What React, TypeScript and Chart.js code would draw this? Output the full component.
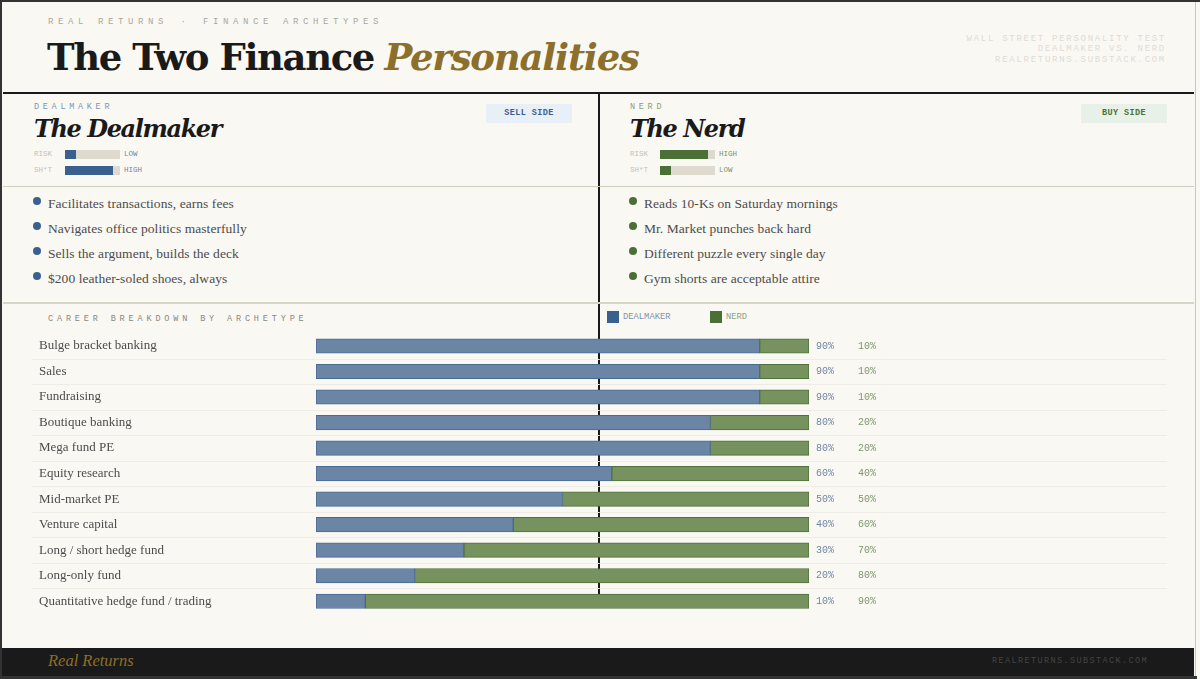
import React, { useEffect, useRef } from "react";
import { Chart, registerables } from "chart.js";

Chart.register(...registerables);

const categories = [
  "Bulge bracket banking", "Sales", "Fundraising", "Boutique banking", "Mega fund PE",
  "Equity research", "Mid-market PE", "Venture capital", "Long / short hedge fund",
  "Long-only fund", "Quantitative hedge fund / trading",
];
const dealmaker = [90, 90, 90, 80, 80, 60, 50, 40, 30, 20, 10];
const nerd = [10, 10, 10, 20, 20, 40, 50, 60, 70, 80, 90];
const dealPoints = ["Facilitates transactions, earns fees", "Navigates office politics masterfully", "Sells the argument, builds the deck", "$200 leather-soled shoes, always"];
const nerdPoints = ["Reads 10-Ks on Saturday mornings", "Mr. Market punches back hard", "Different puzzle every single day", "Gym shorts are acceptable attire"];
const headerNote = ["WALL STREET PERSONALITY TEST", "DEALMAKER VS. NERD", "REALRETURNS.SUBSTACK.COM"];

const BLUE = "#3a6090";
const GREEN = "#4a7035";
const MONO = "'Liberation Mono', monospace";
const SERIF = "'DejaVu Serif', serif";
const BODY = "'Liberation Serif', serif";

const abs = (x: number, y: number, extra: React.CSSProperties = {}): React.CSSProperties => ({
  position: "absolute", left: x, top: y, whiteSpace: "pre", ...extra,
});

function Meter({ x, y, off, label, pct, word, color }: any) {
  return (
    <>
      <div style={abs(x, y - 5, { font: `7.5px ${MONO}`, color: "#c4c1b8", lineHeight: "10px" })}>{label}</div>
      <div style={abs(x + off, y - 4, { width: 55, height: 9, background: "#dedad0" })} />
      <div style={abs(x + off, y - 4, { width: 55 * pct, height: 9, background: color })} />
      <div style={abs(x + off + 59, y - 5, { font: `7.5px ${MONO}`, color, opacity: 0.75, lineHeight: "10px" })}>{word}</div>
    </>
  );
}

function Panel({ x, off, kicker, name, meters, points, color, tag, tagX, tagBg }: any) {
  return (
    <>
      <div style={abs(x, 102, { font: `8.5px ${MONO}`, letterSpacing: 3.7, color, opacity: 0.65, lineHeight: "10px" })}>{kicker}</div>
      <div style={abs(x, 113, { font: `italic bold 24px ${SERIF}`, color: "#1a1a1a", lineHeight: "32px", letterSpacing: -1.4 })}>{name}</div>
      {meters.map((m: any, i: number) => (
        <Meter key={m.label} x={x} y={154 + i * 16} off={off} label={m.label} pct={m.pct} word={m.word} color={color} />
      ))}
      <div style={abs(tagX, 104, { width: 86, height: 19, background: tagBg, textAlign: "center", font: `bold 8.5px ${MONO}`, letterSpacing: 0.4, color, lineHeight: "19px" })}>{tag}</div>
      {points.map((p: string, i: number) => (
        <React.Fragment key={p}>
          <div style={abs(x - 1, 197 + i * 25, { width: 8, height: 8, borderRadius: 4, background: color })} />
          <div style={abs(x + 14, 194 + i * 25.1, { font: `13.5px ${BODY}`, color: "#4c4c4c", lineHeight: "20px", letterSpacing: 0.06 })}>{p}</div>
        </React.Fragment>
      ))}
    </>
  );
}

export default function App() {
  const ref = useRef<HTMLCanvasElement>(null);

  useEffect(() => {
    document.body.style.margin = "0";
    const valueLabels = {
      id: "valueLabels",
      afterDatasetsDraw(c: any) {
        const { ctx, scales: { y }, chartArea } = c;
        ctx.save();
        ctx.font = `10px ${MONO}`;
        ctx.textBaseline = "middle";
        categories.forEach((_, i) => {
          const py = y.getPixelForValue(i);
          ctx.fillStyle = "#6f86a3";
          ctx.fillText(`${dealmaker[i]}%`, chartArea.right + 7, py);
          ctx.fillStyle = "#7f9670";
          ctx.fillText(`${nerd[i]}%`, chartArea.right + 49, py);
        });
        ctx.restore();
      },
    };
    const rowLines = {
      id: "rowLines",
      afterDraw(c: any) {
        const { ctx, scales: { y } } = c;
        ctx.save();
        ctx.strokeStyle = "#efece6";
        ctx.lineWidth = 1;
        for (let i = 0; i < categories.length - 1; i++) {
          const py = Math.round((y.getPixelForValue(i) + y.getPixelForValue(i + 1)) / 2) + 0.5;
          ctx.beginPath();
          ctx.moveTo(0, py);
          ctx.lineTo(c.width, py);
          ctx.stroke();
        }
        ctx.restore();
      },
    };
    const chart = new Chart(ref.current!, {
      type: "bar",
      data: {
        labels: categories,
        datasets: [
          { label: "Dealmaker", data: dealmaker, backgroundColor: "#6b85a5", borderColor: "#466a96", borderWidth: 1, borderSkipped: false, barThickness: 14.5 },
          { label: "Nerd", data: nerd, backgroundColor: "#76925f", borderColor: "#4f7039", borderWidth: 1, borderSkipped: false, barThickness: 14.5 },
        ],
      },
      options: {
        indexAxis: "y",
        animation: false,
        responsive: false,
        maintainAspectRatio: false,
        layout: { autoPadding: false, padding: { left: 7, right: 358, top: 8.2, bottom: 8 } },
        plugins: { legend: { display: false }, tooltip: { enabled: false } },
        scales: {
          x: { stacked: true, min: 0, max: 100, display: false },
          y: {
            stacked: true,
            grid: { display: false },
            border: { display: false },
            afterFit(s: any) { s.width = 277; },
            ticks: {
              autoSkip: false,
              crossAlign: "far",
              padding: 0,
              color: "#4c4c4c",
              font: { family: "'Liberation Serif', serif", size: 13 },
            },
          },
        },
      },
      plugins: [valueLabels, rowLines],
    } as any);
    return () => chart.destroy();
  }, []);

  return (
    <div style={{ position: "relative", width: 1200, height: 679, background: "#faf8f3", overflow: "hidden" }}>
      <div style={abs(0, 0, { width: 1200, height: 2, background: "#333" })} />
      <div style={abs(0, 0, { width: 2, height: 679, background: "#333" })} />
      <div style={abs(1195, 2, { width: 1, height: 677, background: "#c8c6c0" })} />
      <div style={abs(48, 17, { font: `9px ${MONO}`, letterSpacing: 4.6, color: "#aaa89f", lineHeight: "10px" })}>
        REAL RETURNS <span style={{ margin: "0 2.5px" }}>·</span> FINANCE ARCHETYPES
      </div>
      <div style={abs(47, 32, { font: `bold 37px ${SERIF}`, color: "#1a1a1a", lineHeight: "50px", letterSpacing: -1.4 })}>
        The Two Finance <span style={{ fontStyle: "italic", color: "#8b6f2a", fontWeight: 700, marginLeft: -1, letterSpacing: -1.2 }}>Personalities</span>
      </div>
      <div style={{ ...abs(800, 34, { width: 366, textAlign: "right", font: `9px ${MONO}`, letterSpacing: 1.72, color: "#dedcd6", lineHeight: "10.4px" }) }}>
        {headerNote.join("\n")}
      </div>
      <div style={abs(3, 92, { width: 1191, height: 2, background: "#1a1a1a" })} />
      <div style={abs(598, 92, { width: 2, height: 502, background: "#1a1a1a" })} />
      <div style={abs(3, 186, { width: 1191, height: 1, background: "#cfcfc0" })} />
      <div style={abs(3, 302, { width: 1191, height: 2, background: "#d6d5c8" })} />

      <Panel x={34} off={31} kicker="DEALMAKER" name="The Dealmaker" color={BLUE} tag="SELL SIDE" tagX={486} tagBg="#e8eff7" points={dealPoints}
        meters={[{ label: "RISK", pct: 0.2, word: "LOW" }, { label: "SH*T", pct: 0.88, word: "HIGH" }]} />
      <Panel x={630} off={30} kicker="NERD" name="The Nerd" color={GREEN} tag="BUY SIDE" tagX={1081} tagBg="#e8f1e8" points={nerdPoints}
        meters={[{ label: "RISK", pct: 0.88, word: "HIGH" }, { label: "SH*T", pct: 0.2, word: "LOW" }]} />

      <div style={abs(48, 314, { font: `8.5px ${MONO}`, letterSpacing: 3.85, color: "#8a8880", lineHeight: "10px" })}>CAREER BREAKDOWN BY ARCHETYPE</div>
      <div style={abs(607, 311, { width: 12, height: 12, background: BLUE })} />
      <div style={abs(623, 312, { font: `8.8px ${MONO}`, color: "#7d93ae", lineHeight: "10px" })}>DEALMAKER</div>
      <div style={abs(710, 311, { width: 12, height: 12, background: GREEN })} />
      <div style={abs(726, 312, { font: `8.8px ${MONO}`, color: "#8fa37f", lineHeight: "10px" })}>NERD</div>

      <canvas ref={ref} width={1135} height={297} style={{ position: "absolute", left: 32, top: 325, width: 1135, height: 297 }} />

      <div style={abs(2, 648, { width: 1192, height: 28, background: "#1a1a1a" })} />
      <div style={abs(0, 676, { width: 1197, height: 3, background: "#333" })} />
      <div style={abs(48, 651, { font: `italic 16.5px ${BODY}`, color: "#8b6f2a", lineHeight: "20px" })}>Real Returns</div>
      <div style={abs(800, 656, { width: 348, textAlign: "right", font: `8.5px ${MONO}`, letterSpacing: 1.4, color: "#444", lineHeight: "11px" })}>REALRETURNS.SUBSTACK.COM</div>
    </div>
  );
}
